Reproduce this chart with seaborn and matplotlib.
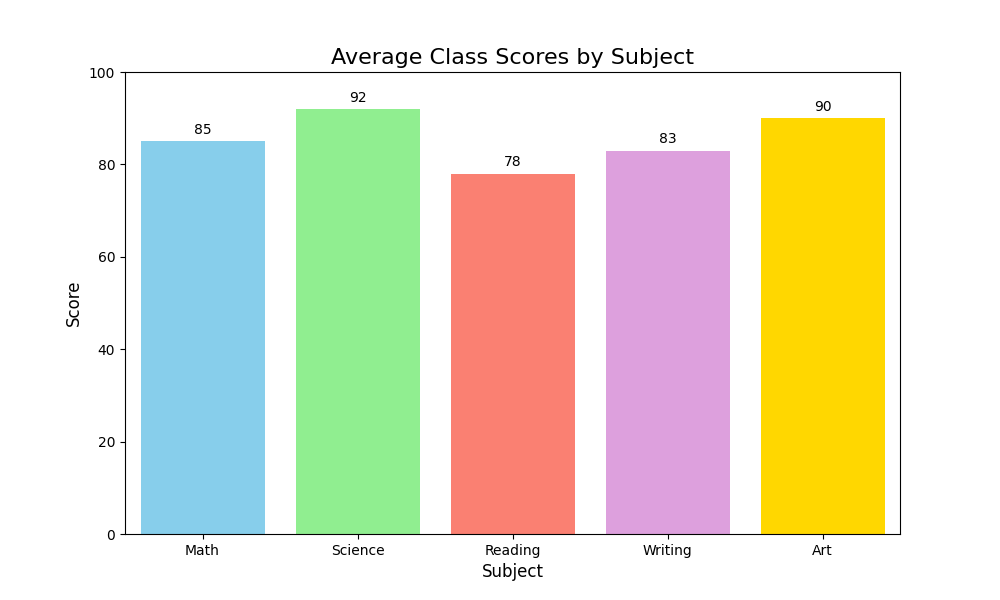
import matplotlib
matplotlib.use("Agg")
import matplotlib.pyplot as plt
import seaborn as sns
import pandas as pd

subjects = ['Math', 'Science', 'Reading', 'Writing', 'Art']
scores = [85, 92, 78, 83, 90]
colors = ['skyblue', 'lightgreen', 'salmon', 'plum', 'gold']

df = pd.DataFrame({'Subject': subjects, 'Score': scores})

fig, ax = plt.subplots(figsize=(10, 6), dpi=100)
sns.barplot(data=df, x='Subject', y='Score', hue='Subject', palette=colors,
            saturation=1, width=0.8, legend=False, ax=ax)
for c in ax.containers:
    ax.bar_label(c, padding=3)
ax.set_ylim(0, 100)
ax.set_title('Average Class Scores by Subject', fontsize=16)
ax.set_xlabel('Subject', fontsize=12)
ax.set_ylabel('Score', fontsize=12)
plt.savefig('out.png')
